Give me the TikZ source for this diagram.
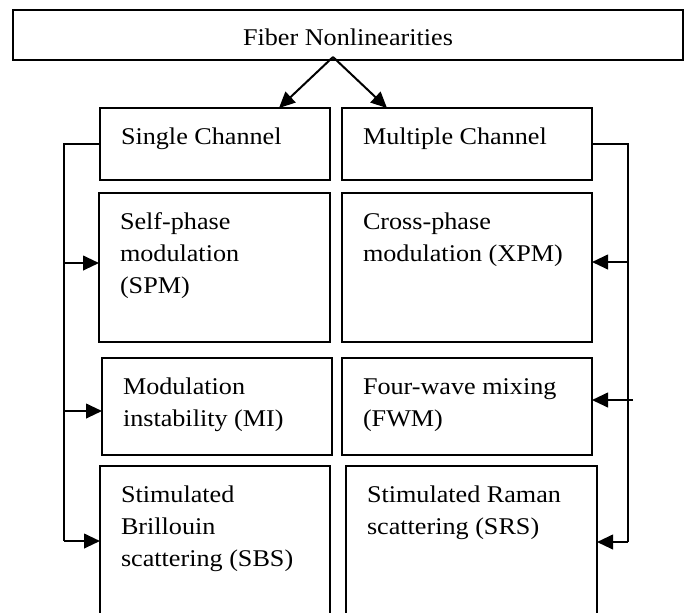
\documentclass[tikz,border=0pt]{standalone}
\usepackage{fontspec}
\setmainfont{Liberation Serif}[FakeStretch=1.09]
\usepackage{tikz}
\usetikzlibrary{arrows.meta}
\usetikzlibrary{fit}
\usetikzlibrary{calc}
\tikzset{box/.style={draw=black, line width=1.5pt, inner sep=0pt, outer sep=0pt}, boxtext/.style={anchor=north west, align=left, inner sep=0pt, font=\fontsize{18pt}{24pt}\selectfont}}
\tikzset{arr/.style={line width=1.5pt, -{Triangle[length=12pt, width=11pt]}}}

\begin{document}
\begin{tikzpicture}[x=0.75pt, y=-0.75pt, line width=1.5pt]
\useasboundingbox (0,0) rectangle (688,612);
\clip (0,0) rectangle (688,612);
 \node[box, fit={(13,10) (683,60)}] (fiber) {};
 \node[boxtext, anchor=base] (fiber-t) at (348,45) {Fiber Nonlinearities};
 \coordinate (split) at (333,57);

 % channel boxes
 \node[box, fit={(100,108) (330,180)}] (sc) {};
 \node[box, fit={(342,108) (592,180)}] (mc) {};
 \node[boxtext] (sc-t) at ($(sc.north west)+(20,12.6)$) {\strut Single Channel};
 \node[boxtext] (mc-t) at ($(mc.north west)+(20,12.6)$) {\strut Multiple Channel};
 \draw[arr] (split) -- ($(sc.north east)+(-51,0)$);
 \draw[arr] (split) -- ($(mc.north west)+(45,0)$);

 % effects
 \node[box, fit={(99,193) (330,342)}] (spm) {};
 \node[box, fit={(342,193) (592,342)}] (xpm) {};
 \node[box, fit={(102,358) (332,455)}] (mi) {};
 \node[box, fit={(342,358) (592,455)}] (fwm) {};
 \node[box, fit={(100,466) (330,640)}] (sbs) {};
 \node[box, fit={(346,466) (597,640)}] (srs) {};
 \node[boxtext] (spm-t) at ($(spm.north west)+(20,12.6)$) {\strut Self-phase\\modulation\\(SPM)};
 \node[boxtext] (xpm-t) at ($(xpm.north west)+(20,12.6)$) {\strut Cross-phase\\modulation (XPM)};
 \node[boxtext] (mi-t) at ($(mi.north west)+(20,12.6)$) {\strut Modulation\\instability (MI)};
 \node[boxtext] (fwm-t) at ($(fwm.north west)+(20,12.6)$) {\strut Four-wave mixing\\(FWM)};
 \node[boxtext] (sbs-t) at ($(sbs.north west)+(20,12.6)$) {\strut Stimulated\\Brillouin\\scattering (SBS)};
 \node[boxtext] (srs-t) at ($(srs.north west)+(20,12.6)$) {\strut Stimulated Raman\\scattering (SRS)};

 % left bus
 \coordinate (lbar) at (64,541);
 \coordinate (l1) at (64,263);
 \coordinate (l2) at (64,411);
 \draw (sc.west) -| (lbar);
 \draw[arr] (l1) -- (l1 -| spm.west);
 \draw[arr] (l2) -- (l2 -| mi.west);
 \draw[arr] (lbar) -- (lbar -| sbs.west);

 % right bus
 \coordinate (rbar) at (628,542);
 \coordinate (r1) at (628,262);
 \coordinate (r2) at (633,400);
 \draw (mc.east) -| (rbar);
 \draw[arr] (r1) -- (r1 -| xpm.east);
 \draw[arr] (r2) -- (r2 -| fwm.east);
 \draw[arr] (rbar) -- (rbar -| srs.east);
\end{tikzpicture}
\end{document}
